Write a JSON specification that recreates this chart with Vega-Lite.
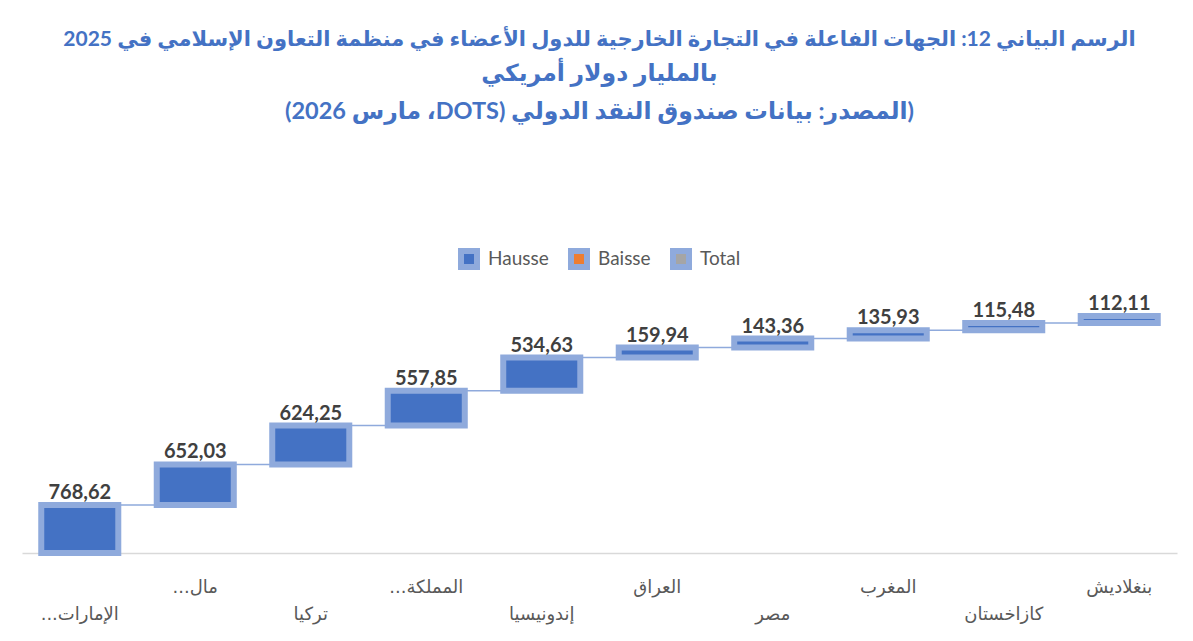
{
  "$schema": "https://vega.github.io/schema/vega-lite/v6.json",
  "width": 1155,
  "height": 243,
  "autosize": {"type": "none"},
  "padding": {"left": 22, "top": 310, "right": 16, "bottom": 88},
  "background": "white",
  "config": {
    "view": {"stroke": null},
    "font": "Lato, DejaVu Sans, sans-serif",
    "locale": {"number": {"decimal": ",", "thousands": ".", "grouping": [3], "currency": ["", ""]}}
  },
  "title": {
    "text": "\u202bالرسم البياني 12: الجهات الفاعلة في التجارة الخارجية للدول الأعضاء في منظمة التعاون الإسلامي في 2025\u202c",
    "subtitle": [
      "\u202bبالمليار دولار أمريكي\u202c",
      "\u202b(المصدر: بيانات صندوق النقد الدولي (DOTS، مارس 2026)\u202c"
    ],
    "color": "#4472C4",
    "subtitleColor": "#4472C4",
    "fontSize": 21,
    "subtitleFontSize": 23.5,
    "fontWeight": "bold",
    "subtitleFontWeight": "bold",
    "font": "Lato, DejaVu Sans, sans-serif",
    "subtitleFont": "Lato, DejaVu Sans, sans-serif",
    "anchor": "middle",
    "frame": "group",
    "baseline": "alphabetic",
    "offset": 108,
    "subtitlePadding": 14,
    "subtitleLineHeight": 38
  },
  "data": {
    "values": [
      {"idx": 1, "country": "الإمارات...", "value": 768.62, "start": 0, "end": 768.62, "type": "Hausse"},
      {"idx": 2, "country": "مال...", "value": 652.03, "start": 768.62, "end": 1420.65, "type": "Hausse"},
      {"idx": 3, "country": "تركيا", "value": 624.25, "start": 1420.65, "end": 2044.90, "type": "Hausse"},
      {"idx": 4, "country": "المملكة...", "value": 557.85, "start": 2044.90, "end": 2602.75, "type": "Hausse"},
      {"idx": 5, "country": "إندونيسيا", "value": 534.63, "start": 2602.75, "end": 3137.38, "type": "Hausse"},
      {"idx": 6, "country": "العراق", "value": 159.94, "start": 3137.38, "end": 3297.32, "type": "Hausse"},
      {"idx": 7, "country": "مصر", "value": 143.36, "start": 3297.32, "end": 3440.68, "type": "Hausse"},
      {"idx": 8, "country": "المغرب", "value": 135.93, "start": 3440.68, "end": 3576.61, "type": "Hausse"},
      {"idx": 9, "country": "كازاخستان", "value": 115.48, "start": 3576.61, "end": 3692.09, "type": "Hausse"},
      {"idx": 10, "country": "بنغلاديش", "value": 112.11, "start": 3692.09, "end": 3804.20, "type": "Hausse"}
    ]
  },
  "encoding": {
    "x": {
      "field": "country",
      "type": "nominal",
      "sort": null,
      "scale": {"paddingInner": 0.333, "paddingOuter": 0.1667},
      "axis": {
        "title": null,
        "labelAngle": 0,
        "ticks": false,
        "tickSize": 0,
        "domainColor": "#D9D9D9",
        "domainWidth": 1.5,
        "labelFontSize": 18,
        "labelColor": "#595959",
        "labelFont": "DejaVu Sans, sans-serif",
        "labelBaseline": "middle",
        "labelOverlap": false,
        "labelLimit": 0,
        "labelExpr": "'\u202b' + datum.label + '\u202c'",
        "labelPadding": {
          "condition": {"test": "indexof(['مال...', 'المملكة...', 'العراق', 'المغرب', 'بنغلاديش'], datum.value) >= 0", "value": 34},
          "value": 61
        }
      }
    }
  },
  "layer": [
    {
      "mark": {"type": "line", "interpolate": "step-after", "color": "#8FAADC", "strokeWidth": 1.5},
      "encoding": {
        "y": {"field": "end", "type": "quantitative", "scale": {"domain": [0, 3900], "nice": false, "zero": true}, "axis": null},
        "order": {"field": "idx"}
      }
    },
    {
      "mark": {"type": "bar", "stroke": "#8FAADC", "strokeWidth": 6},
      "encoding": {
        "y": {"field": "start", "type": "quantitative"},
        "y2": {"field": "end"},
        "color": {
          "field": "type",
          "type": "nominal",
          "scale": {"domain": ["Hausse", "Baisse", "Total"], "range": ["#4472C4", "#ED7D31", "#A5A5A5"]},
          "legend": {
            "orient": "none",
            "legendX": 436,
            "legendY": -62,
            "direction": "horizontal",
            "title": null,
            "symbolType": "square",
            "symbolSize": 256,
            "symbolStrokeWidth": 6,
            "symbolStrokeColor": "#8FAADC",
            "symbolOpacity": 1,
            "labelFontSize": 19,
            "labelColor": "#595959",
            "labelFont": "Lato, sans-serif",
            "columnSpacing": 14,
            "labelOffset": 8
          }
        }
      }
    },
    {
      "mark": {"type": "text", "fontWeight": "bold", "fontSize": 20, "color": "#404040", "baseline": "alphabetic", "dy": -6, "font": "Lato, sans-serif"},
      "encoding": {
        "y": {"field": "end", "type": "quantitative"},
        "text": {"field": "value", "type": "quantitative", "format": ".2f"}
      }
    }
  ]
}
